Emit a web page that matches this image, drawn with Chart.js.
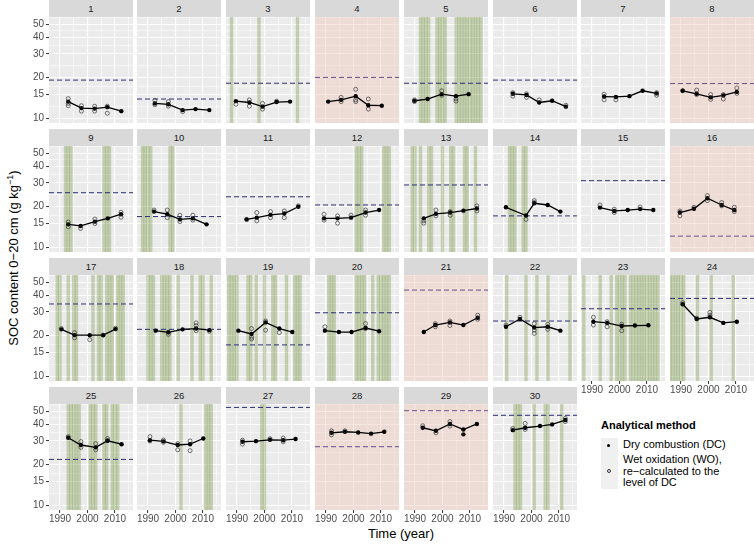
<!DOCTYPE html>
<html>
<head>
<meta charset="utf-8">
<script src="https://cdn.jsdelivr.net/npm/chart.js@4.4.0/dist/chart.umd.min.js"></script>
<style>
  body { margin: 0; background: #fff; font-family: "Liberation Sans", Arial, sans-serif; }
  #wrap { position: relative; width: 754px; height: 545px; overflow: hidden; background: #fff; }
  #wrap canvas { position: absolute; }
  .strip { position: absolute; height: 17px; background: #d9d9d9; color: #1a1a1a; font-size: 9.5px; line-height: 17px; text-align: center; }
  .ytitle { position: absolute; left: 13px; top: 258px; transform: translate(-50%, -50%) rotate(-90deg); white-space: nowrap; font-size: 13px; color: #000; }
  .ytitle sup { font-size: 9px; }
  .xtitle { position: absolute; left: 401px; top: 533px; transform: translate(-50%, -50%); font-size: 13px; color: #000; white-space: nowrap; }
  .ltitle { position: absolute; left: 601px; top: 419px; font-size: 11px; font-weight: bold; color: #000; }
  .key { position: absolute; left: 601px; width: 17px; background: #f0f0f0; }
  .dot { position: absolute; width: 3.4px; height: 3.4px; border-radius: 50%; }
  .ltext { position: absolute; left: 623px; font-size: 11px; line-height: 11.6px; color: #000; white-space: nowrap; }
</style>
</head>
<body>
<div id="wrap">
  <div class="ytitle">SOC content 0−20 cm (g kg<sup>−1</sup>)</div>
  <div class="xtitle">Time (year)</div>
  <div class="ltitle">Analytical method</div>
  <div class="key" style="top:438px;height:17px"></div>
  <div class="key" style="top:455px;height:34px"></div>
  <div class="dot" style="left:607px;top:444px;background:#000"></div>
  <div class="dot" style="left:606.6px;top:469.4px;border:0.8px solid #333;box-sizing:border-box;width:4px;height:4px"></div>
  <div class="ltext" style="top:439px">Dry combustion (DC)</div>
  <div class="ltext" style="top:454px">Wet oxidation (WO),<br>re−calculated to the<br>level of DC</div>
</div>
<script>
const xTicks = [1990, 1995, 2000, 2005, 2010, 2015];
const xLabels = [1990, 2000, 2010];
const yTicks = [10, 12.25, 15, 17.32, 20, 24.49, 30, 34.64, 40, 44.72, 50, 55.9];
const yLabels = [10, 15, 20, 30, 40, 50];

const pinkPanels = [4, 8, 16, 21, 28, 29];

// dashed reference level per site (null = none shown)
const refLevel = [19.2, 13.9, 18.2, 20.1, 18.2, 19.2, null, 18.1,
  25.4, 16.9, 23.7, 20.6, 29.0, 17.1, 31.2, 12.1,
  34.4, 22.3, 17.1, 29.6, 43.6, 25.7, 31.7, 37.8,
  21.9, null, 53.2, 27.2, 50.3, 46.5];

const meanYears = [
  [1993, 1997.8, 2002.6, 2007.2, 2012.3],
  [1992.5, 1997.4, 2002.6, 2007.3, 2012.3],
  [1989.6, 1994.5, 1999.3, 2004.4, 2009.3],
  [1990.8, 1995.5, 2000.8, 2005.4, 2010.3],
  [1989.8, 1994.6, 1999.7, 2004.9, 2009.5],
  [1993.2, 1998.2, 2002.8, 2007.5, 2012.5],
  [1994.4, 1998.7, 2003.6, 2008.4, 2013.5],
  [1990.6, 1995.7, 2000.8, 2005.4, 2010.3],
  [1993, 1997.5, 2002.7, 2007.4, 2012.2],
  [1992.2, 1997, 2001.6, 2006.3, 2011.3],
  [1993.5, 1997.2, 2002.2, 2007.2, 2012.3],
  [1989.3, 1994.2, 1999.1, 2004.4, 2009.3],
  [1993.2, 1997.6, 2002.8, 2007.6, 2012.5],
  [1990.7, 1998, 2001, 2005.9, 2010.5],
  [1992.9, 1998.1, 2003, 2007.5, 2012.3],
  [1989.6, 1994.7, 1999.6, 2004.8, 2009.4],
  [1990.5, 1995.3, 2000.8, 2005.7, 2010.2],
  [1992.8, 1997.4, 2002.6, 2007.5, 2012.3],
  [1990.5, 1995.3, 2000.4, 2005.4, 2010.1],
  [1989.6, 1994.7, 1999.3, 2004.4, 2009.3],
  [1993.2, 1997.4, 2002.7, 2007.6, 2012.8],
  [1990.7, 1995.8, 2001, 2005.9, 2010.5],
  [1990.5, 1995.5, 2000.8, 2005.6, 2010.5],
  [1990.6, 1995.7, 2000.5, 2005.4, 2010.3],
  [1993, 1997.6, 2003, 2007.3, 2012.4],
  [1990.7, 1995.6, 2000.8, 2005.3, 2010.1],
  [1992, 1996.9, 2002, 2006.8, 2011.3],
  [1992, 1996.9, 2001.7, 2006.4, 2011.2],
  [1992.8, 1997.6, 2002.7, 2007.6, 2012.5],
  [1993.2, 1997.7, 2003.1, 2007.5, 2012.3]
];

const meanValues = [
  [13.3, 11.9, 11.8, 12.1, 11.3],
  [12.9, 12.7, 11.5, 11.7, 11.5],
  [13.4, 13.1, 12.2, 13.2, 13.3],
  [13.3, 13.7, 14.6, 12.5, 12.4],
  [13.5, 13.9, 15.1, 14.6, 15.1],
  [15.2, 14.9, 13.1, 13.5, 12.2],
  [14.5, 14.4, 14.6, 16.0, 15.3],
  [16.0, 15.2, 14.3, 14.8, 15.7],
  [14.8, 14.4, 15.5, 16.4, 17.6],
  [18.4, 17.6, 16.1, 16.4, 14.8],
  [16.1, 16.6, 17.4, 17.8, 20.0],
  [16.4, 16.4, 16.6, 18.1, 18.9],
  [16.4, 17.7, 18.1, 18.7, 19.4],
  [19.8, 17.2, 21.2, 20.6, 18.4],
  [19.7, 18.6, 18.9, 19.2, 18.9],
  [18.1, 19.3, 23.1, 20.6, 18.9],
  [22.3, 20.2, 20.2, 20.2, 22.4],
  [21.8, 21.2, 22.3, 22.6, 22.0],
  [21.8, 20.6, 25.1, 22.6, 21.3],
  [21.8, 21.3, 21.3, 22.8, 21.6],
  [21.3, 24.0, 25.1, 24.0, 27.2],
  [23.3, 26.6, 23.0, 23.3, 21.8],
  [25.4, 24.9, 23.6, 23.8, 23.9],
  [34.2, 26.6, 27.4, 24.9, 25.4],
  [31.7, 28.0, 26.9, 30.1, 28.4],
  [30.4, 29.8, 28.0, 28.4, 31.3],
  [29.6, 29.9, 30.6, 30.4, 31.0],
  [34.5, 35.1, 34.7, 34.0, 35.1],
  [37.6, 35.7, 40.1, 36.5, 40.1],
  [36.1, 37.6, 38.7, 39.8, 42.9]
];

// wet oxidation samples, [year, value]
const woPoints = [
  [[1993, 14.0], [1993, 12.9], [1993, 12.4], [1997.8, 12.4], [1997.8, 11.3], [2002.6, 12.3], [2002.6, 11.3], [2007.2, 12.3], [2007.2, 10.9]],
  [[1992.5, 13.6], [1992.5, 12.6], [1997.4, 13.3], [1997.4, 12.3], [2002.6, 11.2]],
  [[1989.6, 12.7], [1994.5, 13.7], [1994.5, 12.3], [1999.3, 12.9], [1999.3, 11.7], [2004.4, 13.4]],
  [[1995.5, 14.3], [1995.5, 13.3], [2000.8, 16.4], [2000.8, 13.7], [2000.8, 13.3], [2005.4, 13.9], [2005.4, 11.7]],
  [[1989.8, 13.7], [1989.8, 13.3], [1999.7, 16.0], [1999.7, 14.8], [2004.9, 13.9], [2004.9, 13.4]],
  [[1993.2, 15.5], [1993.2, 14.6], [1998.2, 15.2], [1998.2, 14.3], [2002.8, 13.7], [2012.5, 12.5]],
  [[1994.4, 15.1], [1994.4, 13.7], [1998.7, 13.7], [2013.5, 15.5], [2013.5, 14.8]],
  [[1990.6, 16.0], [1995.7, 16.2], [1995.7, 15.0], [2000.8, 15.0], [2000.8, 13.8], [2005.4, 15.0], [2005.4, 13.9], [2010.3, 16.8], [2010.3, 15.3]],
  [[1993, 15.4], [1993, 14.2], [1997.5, 13.8], [2002.7, 16.2], [2002.7, 15.0], [2012.2, 18.2], [2012.2, 16.7]],
  [[1992.2, 18.9], [1997, 18.9], [1997, 16.6], [2001.6, 17.3], [2001.6, 15.5], [2006.3, 17.3], [2006.3, 15.9]],
  [[1993.5, 16.1], [1997.2, 18.1], [1997.2, 15.7], [2002.2, 18.4], [2002.2, 16.6], [2007.2, 18.6], [2007.2, 16.6], [2012.3, 20.3]],
  [[1989.3, 17.6], [1989.3, 15.9], [1994.2, 17.1], [1994.2, 15.1], [1999.1, 17.3], [2004.4, 18.9], [2004.4, 17.3]],
  [[1993.2, 15.7], [1993.2, 15.1], [1997.6, 18.9], [1997.6, 17.1], [2002.8, 18.4], [2002.8, 17.3], [2012.5, 20.3], [2012.5, 18.6]],
  [[1998, 16.1], [2001, 22.2], [2001, 21.5]],
  [[1992.9, 20.6], [1998.1, 19.2], [1998.1, 18.1], [2007.5, 19.9]],
  [[1989.6, 18.6], [1989.6, 17.1], [1994.7, 19.8], [1999.6, 24.2], [1999.6, 22.2], [2004.8, 21.5], [2004.8, 20.3], [2009.4, 19.8], [2009.4, 18.4]],
  [[1990.5, 22.6], [1995.3, 21.1], [1995.3, 19.3], [2000.8, 18.7], [2005.7, 20.2], [2010.2, 22.7]],
  [[1997.4, 20.5], [2007.5, 24.9], [2007.5, 23.8], [2007.5, 21.8], [2012.3, 21.6]],
  [[1995.3, 22.6], [1995.3, 19.5], [1995.3, 18.9], [2000.4, 22.0], [2000.4, 25.7], [2005.4, 21.1]],
  [[1989.6, 23.3], [2004.4, 24.6], [2004.4, 22.6]],
  [[1997.4, 24.6], [1997.4, 23.3], [2002.7, 25.7], [2002.7, 23.8], [2012.8, 28.4], [2012.8, 26.5]],
  [[1990.7, 24.0], [1995.8, 27.4], [2001, 24.6], [2001, 22.0], [2001, 20.8], [2005.9, 24.3], [2005.9, 22.3]],
  [[1990.5, 27.4], [1990.5, 24.0], [1995.5, 25.4], [1995.5, 23.3], [2000.8, 24.3], [2000.8, 21.8]],
  [[1990.6, 35.2], [1995.7, 27.0], [2000.5, 29.8], [2000.5, 28.3]],
  [[1993, 32.3], [1997.6, 29.7], [1997.6, 26.9], [2003, 28.7], [2003, 25.8], [2007.3, 31.3], [2007.3, 30.2]],
  [[1990.7, 32.3], [1990.7, 30.0], [1995.6, 30.5], [1995.6, 29.3], [2000.8, 28.7], [2000.8, 25.8], [2005.3, 30.0], [2005.3, 25.4]],
  [[1992, 30.4], [1992, 28.4], [2002, 31.2], [2006.8, 31.5], [2006.8, 29.6]],
  [[1992, 35.7], [1992, 33.3], [1996.9, 35.7]],
  [[1992.8, 38.9], [1997.6, 34.5], [2002.7, 41.8], [2002.7, 38.7]],
  [[1993.2, 37.1], [1997.7, 40.5], [1997.7, 36.5], [2012.3, 44.1], [2012.3, 41.8]]
];

// extra dry combustion samples off the mean line
const dcExtra = { 29: [[2007.6, 33.6]] };

// years shaded green per site
const bandYears = [
  [], [], [1988, 1998, 2012], [],
  [1992, 1993, 1994, 1995, 1998, 1999, 2000, 2001, 2005, 2006, 2007, 2008, 2009, 2010, 2011, 2012, 2013, 2014],
  [], [], [],
  [1992, 1993, 1994, 2006, 2007, 2008],
  [1988, 1989, 1990, 1991, 1998, 1999],
  [],
  [2001, 2002, 2003, 2011, 2012, 2013],
  [1989, 1990, 1992, 1995, 1996, 2000, 2003, 2004, 2008, 2009, 2012],
  [1992, 1993, 1994, 1997, 1998],
  [], [],
  [1989, 1990, 1993, 1995, 1996, 2002, 2004, 2005, 2007, 2008, 2009, 2011, 2012, 2013],
  [1990, 1991, 1992, 1995, 1996, 1997, 1998, 2001, 2006, 2009, 2010, 2013],
  [1987, 1988, 1989, 1990, 1994, 1995, 1997, 2000, 2003, 2004, 2008, 2011, 2012, 2013],
  [1991, 1992, 1993, 2001, 2002, 2003, 2004, 2007, 2009, 2010, 2011, 2012, 2013],
  [],
  [1991, 1998, 2002, 2006, 2014],
  [1987, 1993, 1997, 1999, 2000, 2001, 2002, 2004, 2005, 2006, 2007, 2008, 2009, 2010, 2011, 2012, 2013, 2014],
  [1986, 1987, 1988, 1989, 1990, 1991, 1996, 2001, 2009],
  [1993, 1994, 1995, 1996, 1997, 2001, 2002, 2003, 2006, 2007, 2009, 2010, 2011],
  [2002, 2011, 2012, 2013],
  [1999, 2000],
  [], [],
  [1994, 1995, 1996, 2001, 2005, 2006, 2011]
];

const xMin = 1986, xMax = 2016.55;
const yMin = 9.23, yMax = 56.4;
const plotW = 84, plotH = 106, yAxisW = 49, xAxisH = 18;
const fontFamily = '"Liberation Sans", Arial, sans-serif';

const colLeft = (col) => Math.round(48.6 + 88.8 * col);

const panelBg = {
  id: 'panelBg',
  beforeDraw(chart) {
    const { ctx, chartArea: a } = chart;
    ctx.save();
    ctx.fillStyle = '#ebebeb';
    ctx.fillRect(a.left, a.top, a.width, a.height);
    ctx.restore();
  },
  beforeDatasetsDraw(chart, args, opts) {
    if (!opts.pink) return;
    const { ctx, chartArea: a } = chart;
    ctx.save();
    ctx.fillStyle = 'rgba(240,200,186,0.45)';
    ctx.fillRect(a.left, a.top, a.width, a.height);
    ctx.restore();
  }
};

const isMajor = (ctx, list) => ctx.tick && list.includes(ctx.tick.value);

function noPadding(axis) {
  axis.paddingTop = 0;
  axis.paddingBottom = 0;
  axis.paddingLeft = 0;
  axis.paddingRight = 0;
}

function renderPanel(k) {
  const id = k + 1;
  const col = k % 8;
  const row = Math.floor(k / 8);
  const hasY = col === 0;
  const hasX = row === 3 || (row === 2 && col >= 6);
  const pink = pinkPanels.includes(id);
  const left = colLeft(col);
  const top = row * 129 + 17;
  const wrap = document.getElementById('wrap');

  const strip = document.createElement('div');
  strip.className = 'strip';
  strip.style.left = left + 'px';
  strip.style.top = (row * 129) + 'px';
  strip.style.width = plotW + 'px';
  strip.textContent = id;
  wrap.appendChild(strip);

  const canvas = document.createElement('canvas');
  const w = plotW + (hasY ? yAxisW : 0);
  const h = plotH + (hasX ? xAxisH : 0);
  canvas.width = w;
  canvas.height = h;
  canvas.style.width = w + 'px';
  canvas.style.height = h + 'px';
  canvas.style.left = (left - (hasY ? yAxisW : 0)) + 'px';
  canvas.style.top = top + 'px';
  wrap.appendChild(canvas);

  const datasets = [];
  datasets.push({
    type: 'scatter',
    data: (dcExtra[id] || []).map(p => ({ x: p[0], y: p[1] })),
    pointRadius: 2.2,
    pointBackgroundColor: '#111',
    pointBorderWidth: 0,
    order: 0
  });
  datasets.push({
    type: 'scatter',
    data: woPoints[k].map(p => ({ x: p[0], y: p[1] })),
    pointRadius: 2,
    pointBackgroundColor: 'rgba(0,0,0,0)',
    pointBorderColor: 'rgba(40,40,40,0.8)',
    pointBorderWidth: 0.8,
    order: 1
  });
  datasets.push({
    type: 'line',
    data: meanYears[k].map((x, i) => ({ x, y: meanValues[k][i] })),
    borderColor: '#000',
    borderWidth: 1.3,
    pointRadius: 2.2,
    pointBackgroundColor: '#000',
    pointBorderWidth: 0,
    tension: 0,
    order: 2
  });
  if (refLevel[k] !== null) {
    datasets.push({
      type: 'line',
      data: [{ x: xMin, y: refLevel[k] }, { x: xMax, y: refLevel[k] }],
      borderColor: pink ? '#65508e' : '#2e2e78',
      borderWidth: 1,
      borderDash: [5, 3],
      pointRadius: 0,
      order: 3
    });
  }
  datasets.push({
    type: 'bar',
    data: bandYears[k].map(x => ({ x, y: [yMin, yMax] })),
    backgroundColor: 'rgba(120,150,70,0.36)',
    borderWidth: 0,
    barThickness: plotW / (xMax - xMin),
    order: 4
  });

  new Chart(canvas, {
    type: 'line',
    data: { datasets },
    plugins: [panelBg],
    options: {
      responsive: false,
      animation: false,
      events: [],
      layout: { padding: 0, autoPadding: false },
      plugins: { legend: { display: false }, tooltip: { enabled: false }, panelBg: { pink } },
      scales: {
        x: {
          type: 'linear',
          min: xMin,
          max: xMax,
          offset: false,
          afterBuildTicks: axis => { axis.ticks = xTicks.map(value => ({ value })); },
          afterFit: axis => { axis.height = hasX ? xAxisH : 0; noPadding(axis); },
          border: { display: false },
          grid: {
            offset: false,
            color: '#fff',
            lineWidth: c => isMajor(c, xLabels) ? 1.1 : 0.55,
            drawTicks: hasX,
            tickLength: 3,
            tickWidth: 1,
            tickColor: c => isMajor(c, xLabels) ? '#333' : 'rgba(0,0,0,0)'
          },
          ticks: {
            display: hasX,
            autoSkip: false,
            maxRotation: 0,
            padding: 0,
            color: '#4d4d4d',
            font: { family: fontFamily, size: 10 },
            callback: v => xLabels.includes(v) ? String(v) : ''
          }
        },
        y: {
          type: 'logarithmic',
          min: yMin,
          max: yMax,
          afterBuildTicks: axis => { axis.ticks = yTicks.map(value => ({ value })); },
          afterFit: axis => { axis.width = hasY ? yAxisW : 0; noPadding(axis); },
          border: { display: false },
          grid: {
            color: '#fff',
            lineWidth: c => isMajor(c, yLabels) ? 1.1 : 0.55,
            drawTicks: hasY,
            tickLength: 3,
            tickWidth: 1,
            tickColor: c => isMajor(c, yLabels) ? '#333' : 'rgba(0,0,0,0)'
          },
          ticks: {
            display: hasY,
            autoSkip: false,
            padding: 2,
            color: '#4d4d4d',
            font: { family: fontFamily, size: 10 },
            callback: v => yLabels.includes(v) ? String(v) : ''
          }
        }
      }
    }
  });
}

for (let k = 0; k < 30; k++) renderPanel(k);
</script>
</body>
</html>
